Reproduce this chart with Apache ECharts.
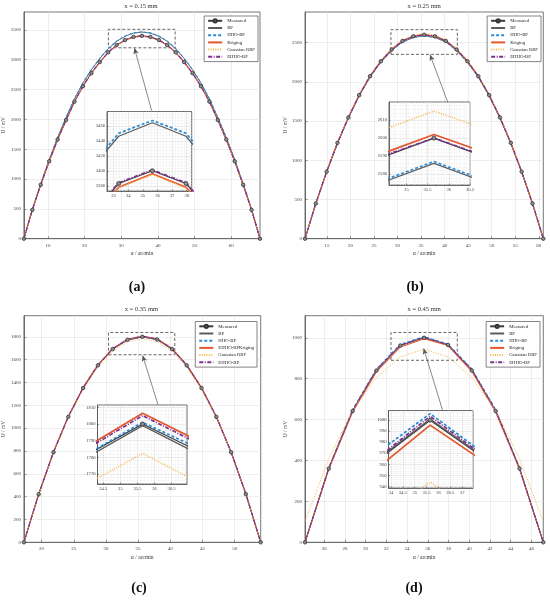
<!DOCTYPE html>
<html><head><meta charset="utf-8">
<script src="https://cdn.jsdelivr.net/npm/echarts@6/dist/echarts.min.js"></script>
<style>html,body{margin:0;padding:0;background:#fff}#c{width:550px;height:601px}</style>
</head><body><div id="c"></div>
<script>
// ---------- DATA ----------
const namesStd = ['Measured','BP','HHO-BP','Kriging','Gaussian RBF','EHHO-BP'];
const namesC   = ['Measured','BP','HHO-BP','EHHO-BPKriging','Gaussian RBF','EHHO-BP'];

// (a) x = 0.15 mm
const alphaA = [3.45,5.75,8.05,10.35,12.65,14.95,17.25,19.55,21.85,24.15,26.45,28.75,31.05,33.35,35.65,37.95,40.25,42.55,44.85,47.15,49.45,51.75,54.05,56.35,58.65,60.95,63.25,65.55,67.85];
const measuredA = [0,483,905,1298,1663,1989,2298,2556,2775,2961,3124,3247,3331,3383,3400,3383,3331,3247,3124,2961,2775,2556,2298,1989,1663,1298,905,483,0];
const bpA    = [0,491,921,1322,1695,2029,2344,2608,2831,3020,3185,3309,3393,3446,3464,3446,3393,3309,3185,3020,2831,2608,2344,2029,1695,1322,921,491,0];
const hhoA   = [0,492,923,1325,1698,2032,2347,2611,2834,3023,3188,3312,3397,3450,3467,3450,3397,3312,3188,3023,2834,2611,2347,2032,1698,1325,923,492,0];
const krigA  = [0,480,901,1294,1659,1984,2293,2551,2770,2956,3119,3242,3326,3378,3396,3378,3326,3242,3119,2956,2770,2551,2293,1984,1659,1294,901,480,0];
const gaussA = [0,479,900,1293,1658,1984,2293,2551,2770,2956,3119,3242,3326,3377,3395,3377,3326,3242,3119,2956,2770,2551,2293,1984,1658,1293,900,479,0];
const ehhoA  = [0,484,906,1299,1664,1990,2299,2557,2776,2962,3125,3248,3332,3384,3401,3384,3332,3248,3125,2962,2776,2557,2299,1990,1664,1299,906,484,0];
const xTicksA = [10,20,30,40,50,60];
const yTicksA = [0,500,1000,1500,2000,2500,3000,3500];
const ixTicksA = [33,34,35,36,37,38];
const iyTicksA = [3380,3400,3420,3440,3460];
const zoomBoxA = [[26.5,3200],[44.7,3510]];
const arrowA = [[33.6,3195],[38.3,2144]];

// (b) x = 0.25 mm
const alphaB = [10.35,12.65,14.95,17.25,19.55,21.85,24.15,26.45,28.75,31.05,33.35,35.65,37.95,40.25,42.55,44.85,47.15,49.45,51.75,54.05,56.35,58.65,60.95];
const measuredB = [0,450,855,1222,1545,1830,2071,2262,2411,2521,2580,2600,2580,2521,2411,2262,2071,1830,1545,1222,855,450,0];
const bpB    = [0,447,849,1214,1536,1819,2060,2249,2398,2508,2566,2586,2566,2508,2398,2249,2060,1819,1536,1214,849,447,0];
const hhoB   = [0,447,850,1215,1536,1820,2060,2250,2399,2508,2567,2587,2567,2509,2399,2250,2060,1820,1536,1215,850,447,0];
const krigB  = [0,452,857,1224,1547,1832,2073,2264,2413,2523,2582,2602,2583,2523,2413,2264,2073,1832,1547,1224,857,452,0];
const gaussB = [0,455,863,1232,1557,1843,2085,2276,2426,2536,2595,2615,2596,2536,2426,2276,2085,1843,1557,1232,863,455,0];
const ehhoB  = [0,451,856,1223,1546,1831,2072,2263,2412,2522,2581,2600,2581,2522,2412,2263,2072,1831,1546,1223,856,451,0];
const xTicksB = [15,20,25,30,35,40,45,50,55,60];
const yTicksB = [0,500,1000,1500,2000,2500];
const ixTicksB = [35,35.5,36,36.5];
const iyTicksB = [2580,2590,2600,2610];
const zoomBoxB = [[28.6,2350],[42.7,2665]];
const arrowB = [[36.9,2345],[40.65,1741]];

// (c) x = 0.35 mm
const alphaC = [17.25,19.55,21.85,24.15,26.45,28.75,31.05,33.35,35.65,37.95,40.25,42.55,44.85,47.15,49.45,51.75,54.05];
const measuredC = [0,421,789,1099,1351,1550,1693,1774,1800,1777,1693,1550,1351,1099,789,421,0];
const bpC    = [0,420,788,1098,1350,1549,1692,1772,1799,1775,1692,1549,1350,1098,788,420,0];
const hhoC   = [0,422,790,1100,1352,1551,1694,1774,1801,1779,1695,1551,1352,1100,790,422,0];
const krigC  = [0,423,792,1103,1355,1554,1697,1778,1806.5,1783,1698,1554,1355,1103,792,423,0];
const gaussC = [0,418,783,1090,1338,1534,1674,1756.5,1782.3,1758,1675,1534,1338,1090,783,418,0];
const ehhoC  = [0,423,791,1102,1354,1553,1696,1777,1805,1781.5,1697,1553,1354,1102,791,423,0];
const xTicksC = [20,25,30,35,40,45,50];
const yTicksC = [0,200,400,600,800,1000,1200,1400,1600,1800];
const ixTicksC = [34.5,35,35.5,36,36.5];
const iyTicksC = [1770,1780,1790,1800,1810];
const zoomBoxC = [[30.4,1643],[40.7,1838]];
const arrowC = [[35.7,1636],[38.1,1204]];

// (d) x = 0.45 mm
const alphaD = [24.15,26.45,28.75,31.05,33.35,35.65,37.95,40.25,42.55,44.85,47.15];
const measuredD = [0,361,642,840,962,1000,965,840,642,361,0];
const bpD    = [0,362,644,842,963,1001,966,842,644,362,0];
const hhoD   = [0,366,649,848,969,1006,969,848,649,366,0];
const krigD  = [0,358,637,834,955,995.5,962,836,637,358,0];
const gaussD = [101,410,645,805,907,944,907,805,645,410,101];
const ehhoD  = [0,364,646,845,964,1003.6,967,845,646,364,0];
const xTicksD = [26,28,30,32,34,36,38,40,42,44,46];
const yTicksD = [0,200,400,600,800,1000];
const ixTicksD = [34,34.5,35,35.5,36,36.5,37];
const iyTicksD = [940,950,960,970,980,990,1000];
const zoomBoxD = [[32.45,890],[38.85,1026]];
const arrowD = [[35.6,948],[37.44,644]];

// ---------- STYLES / LAYOUT ----------
const FONT = 'Liberation Serif';
const STY = [
  {color:'#3a3a3a', w:0.9, iw:1.2, type:'solid', symbol:'circle'},
  {color:'#5c5c5c', w:0.9, iw:1.3, type:'solid'},
  {color:'#2b8bd6', w:1.1, iw:1.7, type:[3,2]},
  {color:'#e4572e', w:1.1, iw:1.7, type:'solid'},
  {color:'#f2b640', w:1.0, iw:1.4, type:[1,1.4]},
  {color:'#7e2f8e', w:1.1, iw:1.7, type:[4,1.5,1,1.5]}
];

const panels = [
  {title:'x = 0.15 mm', tag:'(a)', tagPos:[137,287], names:namesStd, alpha:alphaA,
   values:[measuredA,bpA,hhoA,krigA,gaussA,ehhoA], xTicks:xTicksA, yTicks:yTicksA,
   xRange:[3.45,67.85], yRange:[0,3800], grid:{left:22,top:12,width:238,height:226.7},
   inset:{left:107,top:111.5,width:84.7,height:79.5}, ixRange:[32.55,38.34], iyRange:[3373,3479],
   ixTicks:ixTicksA, iyTicks:iyTicksA, box:zoomBoxA, arrow:arrowA, legend:{right:292,top:16}},
  {title:'x = 0.25 mm', tag:'(b)', tagPos:[415,287], names:namesStd, alpha:alphaB,
   values:[measuredB,bpB,hhoB,krigB,gaussB,ehhoB], xTicks:xTicksB, yTicks:yTicksB,
   xRange:[10.35,60.95], yRange:[0,2890], grid:{left:305,top:12,width:238.3,height:226.7},
   inset:{left:389,top:102,width:81,height:83}, ixRange:[34.59,36.5], iyRange:[2574,2620],
   ixTicks:ixTicksB, iyTicks:iyTicksB, box:zoomBoxB, arrow:arrowB, legend:{right:9,top:16}},
  {title:'x = 0.35 mm', tag:'(c)', tagPos:[139,588], names:namesC, alpha:alphaC,
   values:[measuredC,bpC,hhoC,krigC,gaussC,ehhoC], xTicks:xTicksC, yTicks:yTicksC,
   xRange:[17.25,54.05], yRange:[0,1985], grid:{left:22,top:315.7,width:238.7,height:226.6},
   inset:{left:97.5,top:405,width:89.5,height:79}, ixRange:[34.33,36.95], iyRange:[1764,1811.4],
   ixTicks:ixTicksC, iyTicks:iyTicksC, box:zoomBoxC, arrow:arrowC, legend:{right:293,top:321.5}},
  {title:'x = 0.45 mm', tag:'(d)', tagPos:[414,588], names:namesStd, alpha:alphaD,
   values:[measuredD,bpD,hhoD,krigD,gaussD,ehhoD], xTicks:xTicksD, yTicks:yTicksD,
   xRange:[24.15,47.15], yRange:[0,1108], grid:{left:305,top:315.7,width:238.3,height:226.6},
   inset:{left:388.5,top:410.5,width:84.5,height:77.5}, ixRange:[33.9,37.45], iyRange:[938.5,1008.8],
   ixTicks:ixTicksD, iyTicks:iyTicksD, box:zoomBoxD, arrow:arrowD, legend:{right:10,top:321.5}}
];

const fmt = v => String(Math.round(v*1000)/1000);

function axisCommon(gi, range, ticks, inset){
  return {
    type:'value', gridIndex:gi, min:range[0], max:range[1], z: inset?2:0,
    axisLine:{show:true, onZero:false, lineStyle:{color:'#555', width:0.8}},
    axisTick:{show:true, inside:true, length: inset?1.5:2.5, customValues:ticks, lineStyle:{color:'#555', width:0.6}},
    axisLabel:{customValues:ticks, fontSize: inset?4.6:5, fontFamily:FONT, color:'#444', formatter:fmt},
    splitLine:{show:true, lineStyle:{color: inset?'#dcdcdc':'#e2e2e2', width:0.6}},
    minorTick:{show:false, splitNumber:5},
    minorSplitLine:{show:!!inset, lineStyle:{color:'#efefef', width:0.5}}
  };
}

const grids=[], xAxes=[], yAxes=[], series=[], legends=[], graphics=[];
panels.forEach(p=>{
  const gi = grids.length;
  grids.push(Object.assign({show:true, borderColor:'#555', borderWidth:0.8, backgroundColor:'transparent'}, p.grid));
  const mx = axisCommon(gi, p.xRange, p.xTicks, false);
  mx.axisLabel.margin = 4;
  mx.name = '{i|α} / arcmin'; mx.nameLocation='middle'; mx.nameGap=12;
  mx.nameTextStyle = {fontSize:5.5, fontFamily:FONT, color:'#333', rich:{i:{fontStyle:'italic', fontSize:5.5, fontFamily:FONT, color:'#333'}}};
  const my = axisCommon(gi, p.yRange, p.yTicks, false);
  my.axisLabel.margin = 3;
  my.name = 'U / mV'; my.nameLocation='middle'; my.nameGap=14; my.nameRotate=90;
  my.nameTextStyle = {fontSize:5.5, fontFamily:FONT, color:'#333'};
  xAxes.push(mx); yAxes.push(my);

  const ii = grids.length;
  grids.push(Object.assign({show:true, borderColor:'#444', borderWidth:0.8, backgroundColor:'#fff', z:1}, p.inset));
  const ix = axisCommon(ii, p.ixRange, p.ixTicks, true); ix.axisLabel.margin = 2;
  const iy = axisCommon(ii, p.iyRange, p.iyTicks, true); iy.axisLabel.margin = 2;
  xAxes.push(ix); yAxes.push(iy);

  p.names.forEach((nm, s)=>{
    const st = STY[s];
    const data = p.alpha.map((a,i)=>[a, p.values[s][i]]);
    [false,true].forEach(inset=>{
      const idx = inset ? ii : gi;
      const ser = {
        type:'line', name:nm, data, xAxisIndex:idx, yAxisIndex:idx, z: inset?3:2,
        color: st.color,
        lineStyle:{color:st.color, width: inset?st.iw:st.w, type:st.type},
        symbol: st.symbol || 'none', symbolSize: inset?4:3.5, showSymbol: !!st.symbol,
        itemStyle: st.symbol ? {color:'#8e8e8e', borderColor:'#333', borderWidth:0.8} : {color:st.color},
        silent:true, animation:false, clip:true, emphasis:{disabled:true}
      };
      if(!inset && s===0){
        ser.markArea = {silent:true, label:{show:false},
          itemStyle:{color:'rgba(0,0,0,0)', borderColor:'#555', borderWidth:0.9, borderType:[3,2]},
          data:[[{coord:p.box[0]},{coord:p.box[1]}]]};
        ser.markLine = {silent:true, animation:false, symbol:['arrow','none'], symbolSize:[4,6],
          label:{show:false}, lineStyle:{color:'#555', width:0.7, type:'solid'},
          data:[[{coord:p.arrow[0]},{coord:p.arrow[1]}]]};
      }
      series.push(ser);
    });
  });

  legends.push({right:p.legend.right, top:p.legend.top, orient:'vertical', selectedMode:false,
    data:p.names.map((nm,s)=> s===0 ? {name:nm} : {name:nm, itemStyle:{opacity:0, color:'rgba(0,0,0,0)', borderWidth:0}}),
    itemWidth:14, itemHeight:4, itemGap:1.6,
    textStyle:{fontSize:4.8, lineHeight:5.6, fontFamily:FONT, color:'#222'},
    backgroundColor:'#fff', borderColor:'#333', borderWidth:0.6, borderRadius:0, padding:[2,3,2,3]});

  graphics.push({type:'text', x:p.grid.left+p.grid.width/2, y:p.grid.top-6,
    style:{text:p.title, align:'center', verticalAlign:'middle', font:'6.5px "Liberation Serif"', fill:'#333'}});
  graphics.push({type:'text', x:p.tagPos[0], y:p.tagPos[1],
    style:{text:p.tag, align:'center', verticalAlign:'middle', font:'bold 14px "Liberation Serif"', fill:'#111'}});
});

const chart = echarts.init(document.getElementById('c'), null, {renderer:'canvas'});
chart.setOption({
  animation:false, backgroundColor:'#fff',
  grid:grids, xAxis:xAxes, yAxis:yAxes, series, legend:legends, graphic:graphics
});
</script></body></html>
